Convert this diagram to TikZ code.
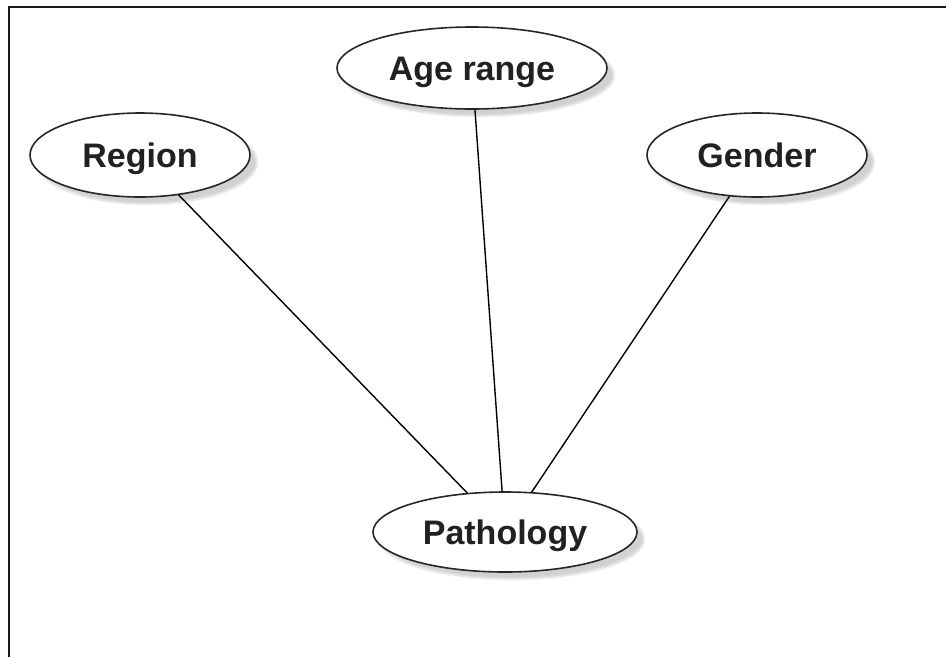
\documentclass[tikz,border=0pt]{standalone}
\usepackage{fontspec}
\setmainfont{Liberation Sans}
\usetikzlibrary{shapes.geometric,shadows.blur}
\begin{document}
\begin{tikzpicture}[x=1pt,y=-1pt,
  attr/.style={ellipse, draw=black!85, line width=1.6pt, fill=white,
    inner sep=0pt, text=black!87, text height=24pt, text depth=0pt,
    font=\fontsize{34}{38}\selectfont\bfseries,
    blur shadow={shadow xshift=7pt, shadow yshift=-7pt, shadow opacity=18, shadow blur steps=8}},
  link/.style={draw=black, line width=1.4pt}]
  \useasboundingbox (0,0) rectangle (946,657);
  % page frame (top and left edges)
  \draw[line width=2.6pt, black!90] (9,657) -- (9,7) -- (946,7);
  % connectors, drawn first so the ellipses cover their ends
  \coordinate (regc) at (140,155);
  \coordinate (agec) at (472,68);
  \coordinate (genc) at (757,155);
  \coordinate (patc) at (505,532);
  \draw[link] (regc) -- (patc);
  \draw[link] (agec) -- (patc);
  \draw[link] (genc) -- (patc);
  % attribute ellipses
  \node[attr, minimum width=220pt, minimum height=84pt] (reg) at (regc) {Region};
  \node[attr, minimum width=270pt, minimum height=82pt] (age) at (agec) {Age range};
  \node[attr, minimum width=220pt, minimum height=84pt] (gen) at (genc) {Gender};
  \node[attr, minimum width=264pt, minimum height=80pt] (pat) at (patc) {Pathology};
\end{tikzpicture}
\end{document}
